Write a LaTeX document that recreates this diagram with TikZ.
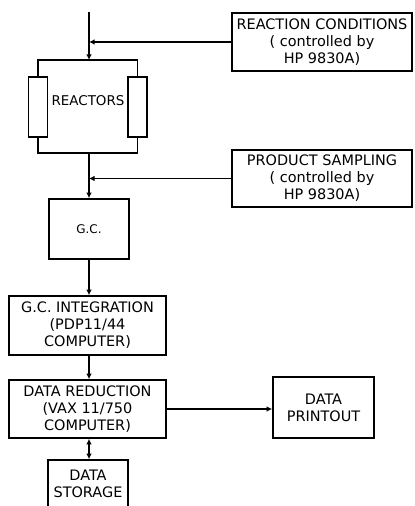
\documentclass[tikz,border=0pt]{standalone}
\usepackage{fontspec}
\setmainfont{DejaVu Sans}
\usetikzlibrary{arrows.meta}

\begin{document}
\begin{tikzpicture}[x=1bp,y=-1bp,>={Latex[length=5.5bp,width=5.5bp]},
    line width=1.6bp,
    unit/.style={draw,line width=1.6bp,align=center,inner sep=1pt,
      font=\fontsize{14.5}{17}\selectfont},
    reactor/.style={draw,line width=1.6bp,minimum width=19bp,
      minimum height=60bp,inner sep=0pt}]
  \useasboundingbox (0,0) rectangle (414,506);

  % controllers
  \node[unit,minimum width=180bp,minimum height=58bp] (cond) at (322,42)
    {REACTION CONDITIONS\\( controlled by\\HP 9830A)};
  \node[unit,minimum width=180bp,minimum height=57bp] (sampling) at (322,178.5)
    {PRODUCT SAMPLING\\( controlled by\\HP 9830A)};

  % reactors
  \coordinate (feed) at (89,12);
  \coordinate (split) at (89,60);
  \coordinate (join) at (89,153);
  \node[reactor] (reactorL) at (38,107) {};
  \node[reactor] (reactorR) at (137.5,107) {};
  \node[font=\fontsize{13.5}{17}\selectfont,inner sep=0pt] (reactors) at (88,101)
    {REACTORS};

  % analysis chain
  \node[unit,minimum width=80bp,minimum height=60bp,
    font=\fontsize{12}{14}\selectfont] (gc) at (89,229) {G.C.};
  \node[unit,minimum width=157bp,minimum height=59bp] (gci) at (87.5,325.5)
    {G.C. INTEGRATION\\(PDP11/44\\COMPUTER)};
  \node[unit,minimum width=157bp,minimum height=58bp] (dr) at (87.5,409)
    {DATA REDUCTION\\(VAX 11/750\\COMPUTER)};
  \node[unit,minimum width=101bp,minimum height=61bp] (printout) at (323.5,407.5)
    {DATA\\PRINTOUT};
  \node[unit,minimum width=80bp,minimum height=48bp] (storage) at (88,484)
    {DATA\\STORAGE};

  \draw[->] (feed) -- (split);
  \draw[->] (cond.west) -- (cond.west -| feed);
  \draw (reactorL.north) |- (split) -| (reactorR.north);
  \draw (reactorL.south) |- (join) -| (reactorR.south);
  \draw[->] (join) -- (gc.north);
  \draw[->] (sampling.west) -- (sampling.west -| join);
  \draw[->] (gc.south) -- (gc.south |- gci.north);
  \draw[->] (gci.south -| gc) -- (gc |- dr.north);
  \draw[->] (dr.east) -- (dr.east -| printout.west);
  \draw[<->] (dr.south -| gc) -- (gc |- storage.north);
\end{tikzpicture}
\end{document}
